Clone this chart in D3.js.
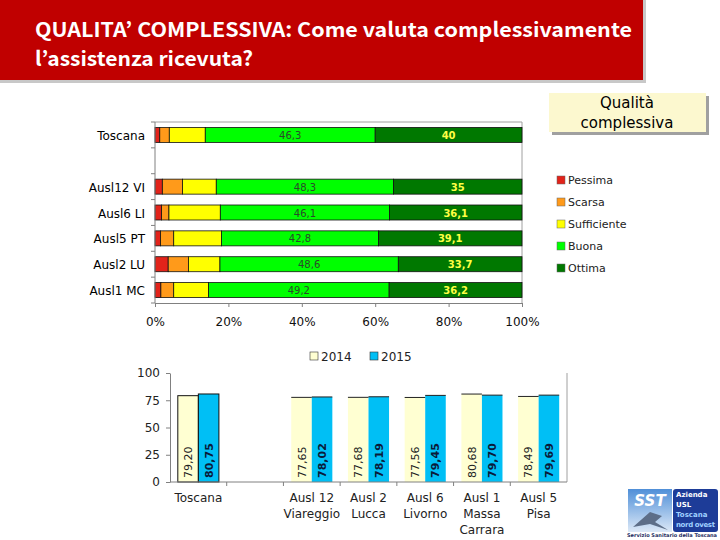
<!DOCTYPE html>
<html>
<head>
<meta charset="utf-8">
<script src="https://cdn.jsdelivr.net/npm/d3@7"></script>
<style>
  body { margin: 0; background: #fff; }
  svg { display: block; }
</style>
</head>
<body>
<script>
// top chart data (percentages)
var rows = ['Toscana', '', 'Ausl12 VI', 'Ausl6 LI', 'Ausl5 PT', 'Ausl2 LU', 'Ausl1 MC'];
var levels = ['Pessima', 'Scarsa', 'Sufficiente', 'Buona', 'Ottima'];
var pessima     = [1.3, null, 2.0, 1.8, 1.5, 3.6, 1.6];
var scarsa      = [2.6, null, 5.5, 2.0, 3.6, 5.5, 3.5];
var sufficiente = [9.8, null, 9.2, 14.0, 13.0, 8.6, 9.5];
var buona       = [46.3, null, 48.3, 46.1, 42.8, 48.6, 49.2];
var ottima      = [40, null, 35, 36.1, 39.1, 33.7, 36.2];
var pctTicks = [0, 20, 40, 60, 80, 100];

// bottom chart data
var groups = ['Toscana', '', 'Ausl 12|Viareggio', 'Ausl 2|Lucca', 'Ausl 6|Livorno', 'Ausl 1|Massa|Carrara', 'Ausl 5|Pisa'];
var years = ['2014', '2015'];
var val2014 = [79.20, null, 77.65, 77.68, 77.56, 80.68, 78.49];
var val2015 = [80.75, null, 78.02, 78.19, 79.45, 79.70, 79.69];
var yTicks = [0, 25, 50, 75, 100];

var colors = ['#e2231a', '#ff9a1a', '#ffff00', '#00ff00', '#007800'];
var yearColors = ['#ffffd2', '#00bff5'];
var fmt = v => v.toString().replace('.', ',');
var fmt2 = v => v.toFixed(2).replace('.', ',');

var svg = d3.select('body').append('svg').attr('width', 720).attr('height', 540);

// header
svg.append('rect').attr('x', 0).attr('y', 0).attr('width', 646).attr('height', 83).attr('fill', '#c8c8c8');
svg.append('rect').attr('x', 0).attr('y', 0).attr('width', 643).attr('height', 80).attr('fill', '#c00000');
var title = svg.append('text')
  .attr('fill', '#fff')
  .style('font-family', 'Noto Sans CJK JP, DejaVu Sans, sans-serif')
  .style('font-weight', 'bold')
  .style('font-size', '20px');
title.append('tspan').attr('x', 35).attr('y', 37).attr('textLength', 597).attr('lengthAdjust', 'spacingAndGlyphs')
  .text('QUALITA’ COMPLESSIVA: Come valuta complessivamente');
title.append('tspan').attr('x', 35).attr('y', 66).attr('textLength', 218).attr('lengthAdjust', 'spacingAndGlyphs')
  .text('l’assistenza ricevuta?');

// "Qualità complessiva" box
svg.append('rect').attr('x', 552).attr('y', 96).attr('width', 157).attr('height', 39).attr('fill', '#a0a0a0');
svg.append('rect').attr('x', 549).attr('y', 93).attr('width', 157).attr('height', 39).attr('fill', '#fcf8cf');
svg.append('text').attr('x', 627).attr('y', 108).attr('text-anchor', 'middle')
  .style('font-family', 'DejaVu Sans, sans-serif').style('font-size', '15px').text('Qualità');
svg.append('text').attr('x', 627).attr('y', 128).attr('text-anchor', 'middle')
  .style('font-family', 'DejaVu Sans, sans-serif').style('font-size', '15px').text('complessiva');

// ---------- top stacked bar chart ----------
var x = d3.scaleLinear().domain([0, 100]).range([155, 522]);
var y = d3.scaleBand().domain(rows).range([122, 303]).paddingInner(0.42).paddingOuter(0.21);

var table = rows.map(function(r, i) {
  return { row: r, Pessima: pessima[i], Scarsa: scarsa[i], Sufficiente: sufficiente[i], Buona: buona[i], Ottima: ottima[i] };
}).filter(d => d.row !== '');
var stack = d3.stack().keys(levels)(table);

// plot border (top, right)
svg.append('path').attr('d', 'M' + x(0) + ',' + 122 + 'H' + x(100) + 'V' + 303)
  .attr('fill', 'none').attr('stroke', '#a0a0a0');

svg.append('g').selectAll('g')
  .data(stack)
  .enter()
  .append('g')
  .attr('fill', (d, i) => colors[i])
  .selectAll('rect')
  .data(d => d)
  .enter()
  .append('rect')
  .attr('x', d => x(d[0]))
  .attr('y', d => y(d.data.row))
  .attr('width', d => x(d[1]) - x(d[0]))
  .attr('height', y.bandwidth())
  .attr('stroke', '#111')
  .attr('stroke-width', 0.8);

// values for Buona and Ottima
[3, 4].forEach(function(k) {
  svg.append('g').selectAll('text')
    .data(stack[k])
    .enter()
    .append('text')
    .attr('x', d => (x(d[0]) + x(d[1])) / 2)
    .attr('y', d => y(d.data.row) + y.bandwidth() / 2 + 4)
    .attr('text-anchor', 'middle')
    .attr('fill', k === 3 ? '#2a4a2a' : '#ffff44')
    .style('font-family', 'DejaVu Sans, sans-serif')
    .style('font-size', '10px')
    .style('font-weight', k === 4 ? 'bold' : 'normal')
    .text(d => fmt(d.data[levels[k]]));
});

// left axis
var yAxis = svg.append('g');
yAxis.append('line').attr('x1', x(0)).attr('x2', x(0)).attr('y1', 122).attr('y2', 303).attr('stroke', '#808080');
yAxis.selectAll('line.tk')
  .data(d3.range(rows.length + 1))
  .enter()
  .append('line')
  .attr('class', 'tk')
  .attr('x1', x(0) - 4).attr('x2', x(0))
  .attr('y1', i => 122 + i * y.step())
  .attr('y2', i => 122 + i * y.step())
  .attr('stroke', '#808080');
yAxis.selectAll('text')
  .data(rows.filter(r => r !== ''))
  .enter()
  .append('text')
  .attr('x', 145)
  .attr('y', d => y(d) + y.bandwidth() / 2 + 5)
  .attr('text-anchor', 'end')
  .style('font-family', 'DejaVu Sans, sans-serif')
  .style('font-size', '12px')
  .text(d => d);

// bottom axis
var xAxis = svg.append('g').attr('transform', 'translate(0,303)')
  .call(d3.axisBottom(x).tickValues(pctTicks).tickFormat(d => d + '%').tickSize(4).tickSizeOuter(0));
xAxis.select('.domain').attr('stroke', '#808080');
xAxis.selectAll('line').attr('stroke', '#808080');
xAxis.selectAll('text').attr('dy', 0).attr('y', 23)
  .style('font-family', 'DejaVu Sans, sans-serif').style('font-size', '12px').attr('fill', '#111');

// legend
var legend = svg.append('g').selectAll('g')
  .data(levels)
  .enter()
  .append('g')
  .attr('transform', (d, i) => 'translate(557,' + (176 + i * 22) + ')');
legend.append('rect').attr('width', 8).attr('height', 8)
  .attr('fill', (d, i) => colors[i]).attr('stroke', '#666').attr('stroke-width', 0.5);
legend.append('text').attr('x', 11).attr('y', 8)
  .style('font-family', 'DejaVu Sans, sans-serif').style('font-size', '11px').attr('fill', '#222')
  .text(d => d);

// ---------- bottom grouped bar chart ----------
var x0 = d3.scaleBand().domain(groups).range([170, 567]);
var x1 = d3.scaleBand().domain(years).range([0, x0.bandwidth()]).paddingOuter(0.38);
var yv = d3.scaleLinear().domain([0, 100]).range([482, 373]);

var bars = groups.map(function(g, i) {
  return { group: g, values: [val2014[i], val2015[i]] };
}).filter(d => d.group !== '');

svg.append('line').attr('x1', 567).attr('x2', 567).attr('y1', 373).attr('y2', 482).attr('stroke', '#a0a0a0');

var bg = svg.append('g').selectAll('g')
  .data(bars)
  .enter()
  .append('g')
  .attr('transform', d => 'translate(' + x0(d.group) + ',0)');

bg.selectAll('rect')
  .data(d => d.values.map((v, j) => ({ group: d.group, year: years[j], v: v, j: j })))
  .enter()
  .append('rect')
  .attr('x', d => x1(d.year))
  .attr('y', d => yv(d.v))
  .attr('width', x1.bandwidth())
  .attr('height', d => yv(0) - yv(d.v))
  .attr('fill', d => yearColors[d.j])
  .attr('stroke', d => d.group === 'Toscana' ? '#111' : 'none')
  .attr('stroke-width', 1);

bg.selectAll('line.top')
  .data(d => d.values.map((v, j) => ({ group: d.group, year: years[j], v: v })))
  .enter()
  .append('line')
  .attr('class', 'top')
  .attr('x1', d => x1(d.year)).attr('x2', d => x1(d.year) + x1.bandwidth())
  .attr('y1', d => yv(d.v)).attr('y2', d => yv(d.v))
  .attr('stroke', d => d.group === 'Toscana' ? 'none' : '#222');

bg.selectAll('text')
  .data(d => d.values.map((v, j) => ({ year: years[j], v: v, j: j })))
  .enter()
  .append('text')
  .attr('transform', d => 'translate(' + (x1(d.year) + x1.bandwidth() / 2 + 4) + ',478) rotate(-90)')
  .style('font-family', 'DejaVu Sans, sans-serif')
  .style('font-size', '11px')
  .style('font-weight', d => d.j === 1 ? 'bold' : 'normal')
  .attr('fill', d => d.j === 1 ? '#0a1a3a' : '#222')
  .text(d => fmt2(d.v));

// y axis
var yAx = svg.append('g').attr('transform', 'translate(170,0)')
  .call(d3.axisLeft(yv).tickValues(yTicks).tickSize(4).tickSizeOuter(0));
yAx.select('.domain').attr('stroke', '#808080');
yAx.selectAll('line').attr('stroke', '#808080');
yAx.selectAll('text').attr('x', -10)
  .style('font-family', 'DejaVu Sans, sans-serif').style('font-size', '12px').attr('fill', '#222');

// x axis
var xg = svg.append('g');
xg.append('line').attr('x1', 170).attr('x2', 567).attr('y1', 482).attr('y2', 482).attr('stroke', '#808080');
xg.selectAll('line.tk')
  .data(groups.slice(1))
  .enter()
  .append('line')
  .attr('class', 'tk')
  .attr('x1', d => x0(d)).attr('x2', d => x0(d))
  .attr('y1', 482).attr('y2', 486)
  .attr('stroke', '#808080');
xg.selectAll('text')
  .data(groups.filter(g => g !== ''))
  .enter()
  .append('text')
  .attr('text-anchor', 'middle')
  .style('font-family', 'DejaVu Sans, sans-serif')
  .style('font-size', '12px')
  .attr('fill', '#222')
  .each(function(d) {
    var t = d3.select(this);
    d.split('|').forEach(function(line, k) {
      t.append('tspan').attr('x', x0(d) + x0.bandwidth() / 2).attr('y', 502 + k * 16).text(line);
    });
  });

// year legend
var yl = svg.append('g').selectAll('g')
  .data(years)
  .enter()
  .append('g')
  .attr('transform', (d, i) => 'translate(' + (310 + i * 60) + ',352)');
yl.append('rect').attr('width', 8).attr('height', 8)
  .attr('fill', (d, i) => yearColors[i]).attr('stroke', '#333').attr('stroke-width', 0.6);
yl.append('text').attr('x', 11).attr('y', 9)
  .style('font-family', 'DejaVu Sans, sans-serif').style('font-size', '12px').attr('fill', '#222')
  .text(d => d);

// logo
var logo = svg.append('g');
var grad = svg.append('defs').append('linearGradient').attr('id', 'sky').attr('x1', 0).attr('y1', 0).attr('x2', 0).attr('y2', 1);
grad.append('stop').attr('offset', '0').attr('stop-color', '#4f8fd8');
grad.append('stop').attr('offset', '1').attr('stop-color', '#dde9f7');
logo.append('rect').attr('x', 628).attr('y', 489).attr('width', 44).attr('height', 43).attr('fill', 'url(#sky)');
logo.append('text').attr('x', 650).attr('y', 506).attr('text-anchor', 'middle').attr('fill', '#fff')
  .style('font-family', 'DejaVu Sans, sans-serif').style('font-size', '15px').style('font-weight', 'bold').style('font-style', 'italic').text('SST');
logo.append('path').attr('d', 'M633,527 L650,512 L662,516 L655,522 L668,530 L650,524 Z').attr('fill', '#5d6e88');
logo.append('rect').attr('x', 673).attr('y', 489).attr('width', 45).attr('height', 43).attr('rx', 3).attr('fill', '#1d3c98');
[['Azienda', '#fff', 497], ['USL', '#fff', 507], ['Toscana', '#9fd0ff', 517], ['nord ovest', '#9fd0ff', 527]].forEach(function(l) {
  logo.append('text').attr('x', 676).attr('y', l[2]).attr('fill', l[1])
    .attr('textLength', l[0].length > 8 ? 39 : null)
    .style('font-family', 'DejaVu Sans, sans-serif').style('font-size', '7px').style('font-weight', 'bold').text(l[0]);
});
logo.append('text').attr('x', 627).attr('y', 537).attr('textLength', 90).attr('lengthAdjust', 'spacingAndGlyphs')
  .attr('fill', '#1d2c60')
  .style('font-family', 'DejaVu Sans, sans-serif').style('font-size', '5px').style('font-weight', 'bold')
  .text('Servizio Sanitario della Toscana');
</script>
</body>
</html>
